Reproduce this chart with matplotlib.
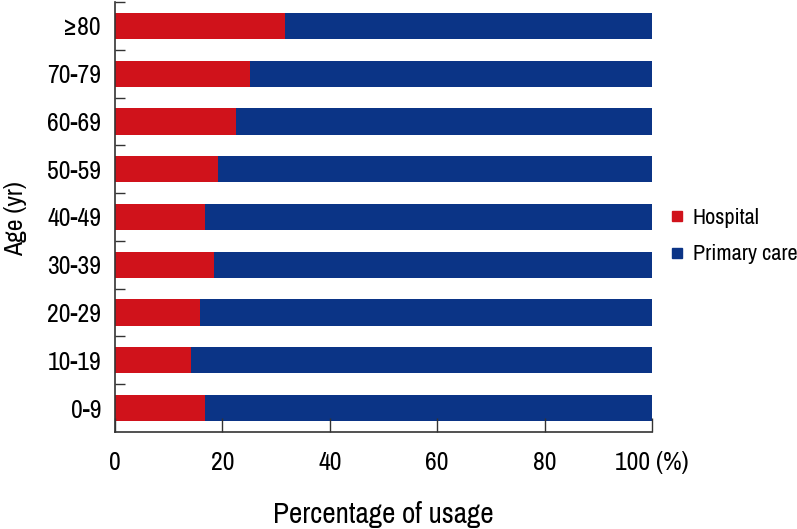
import matplotlib
matplotlib.use("Agg")
from matplotlib import pyplot as plt
from matplotlib import font_manager
from matplotlib.lines import Line2D
import numpy as np

ages = ["0-9", "10-19", "20-29", "30-39", "40-49", "50-59", "60-69", "70-79", "\u226580"]
hospital = [16.7, 14.2, 15.8, 18.4, 16.7, 19.2, 22.5, 25.1, 31.7]
primary = [83.3, 85.8, 84.2, 81.6, 83.3, 80.8, 77.5, 74.9, 68.3]
xticks = [0, 20, 40, 60, 80, 100]
xticklabels = ["0", "20", "40", "60", "80", "100 (%)"]

red = "#d0121b"
blue = "#0b3486"

# look for a condensed sans face, otherwise use a narrow-ish regular one
names = sorted({f.name for f in font_manager.fontManager.ttflist})
cond = [n for n in names if ("Narrow" in n or "Condensed" in n) and "Mono" not in n and "Serif" not in n]
if cond:
    fam = cond[0]
    scale = 1.0
else:
    fam = "Liberation Sans"
    scale = 0.9
plt.rcParams['font.family'] = [fam, 'DejaVu Sans']

fig = plt.figure(figsize=(7.97, 5.29), dpi=100)
ax = fig.add_axes([115/797, 1-432/529, (652-115)/797, 430/529])

y = np.arange(len(ages))
ax.barh(y, hospital, height=0.55, color=red, label="Hospital")
ax.barh(y, primary, left=hospital, height=0.55, color=blue, label="Primary care")

ax.set_xlim(0, 100)
ax.set_ylim(-0.5, len(ages) - 0.5)

for s in ["top", "right"]:
    ax.spines[s].set_visible(False)
for s in ["left", "bottom"]:
    ax.spines[s].set_color("#333333")
    ax.spines[s].set_linewidth(1.2)

ax.set_xticks(xticks)
ax.set_xticklabels(xticklabels, fontsize=18.5*scale)
ax.tick_params(axis="x", direction="in", length=10, width=1, color="#333333", pad=14)

ax.set_yticks(y)
ax.set_yticklabels(ages, fontsize=18.5*scale)
ax.tick_params(axis="y", which="major", length=0, pad=10)
ax.set_yticks(np.arange(0.5, len(ages), 1), minor=True)
ax.tick_params(axis="y", which="minor", direction="in", length=7, width=1, color="#333333")

ax.set_xlabel("Percentage of usage", fontsize=21*scale, va="center")
ax.xaxis.set_label_coords(0.5, (432-514)/430)
# y label placed directly so its box is centred on the axes
fig.text(16/797, 1-219/529, "Age (yr)", fontsize=18.5*scale, rotation=90,
         ha="center", va="center")

handles = [Line2D([], [], marker="s", linestyle="none", color=red, markersize=7),
           Line2D([], [], marker="s", linestyle="none", color=blue, markersize=7)]
fig.legend(handles, ["Hospital", "Primary care"], loc="center left",
           bbox_to_anchor=(666/797, 1-236/529), frameon=False, fontsize=16*scale,
           borderpad=0, borderaxespad=0, handletextpad=0.2, labelspacing=0.75,
           handlelength=1.0)

fig.savefig("out.png", dpi=100)
